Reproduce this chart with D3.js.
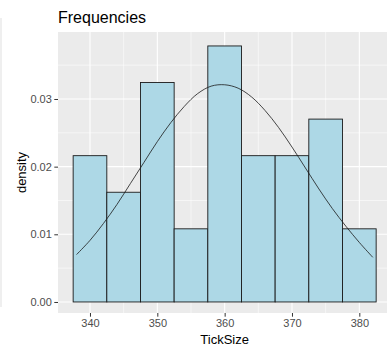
<!DOCTYPE html>
<html>
<head>
<meta charset="utf-8">
<script src="https://cdn.jsdelivr.net/npm/d3@7"></script>
<style>
  body { margin: 0; background: #fff; }
  svg { display: block; font-family: "Liberation Sans", Arial, sans-serif; }
</style>
</head>
<body>
<figure id="hist" style="margin:0"></figure>
<script>
// histogram of TickSize, 5-wide bins starting at 337.5
const binStarts = [337.5, 342.5, 347.5, 352.5, 357.5, 362.5, 367.5, 372.5, 377.5];
const binCounts = [4, 3, 6, 2, 7, 4, 4, 5, 2];
const sampleSize = 37;
const binWidth = 5;

// normal density curve
const curveX = [338, 340, 342, 344, 346, 348, 350, 352, 354, 356, 358, 360,
  362, 364, 366, 368, 370, 372, 374, 376, 378, 380, 382];
const curveY = [0.0070, 0.0091, 0.0116, 0.0144, 0.0175, 0.0206, 0.0237, 0.0265,
  0.0289, 0.0308, 0.0319, 0.0321, 0.0316, 0.0303, 0.0283, 0.0258, 0.0229,
  0.0198, 0.0167, 0.0138, 0.0112, 0.0088, 0.0066];

const xTicks = [340, 350, 360, 370, 380];
const xMinor = [345, 355, 365, 375, 385];
const yTicks = [0, 0.01, 0.02, 0.03];
const yMinor = [0.005, 0.015, 0.025, 0.035];

const width = 387, height = 346;
const panel = { left: 58, top: 32, right: 391.3, bottom: 313 };

const svg = d3.select("#hist")
  .append("svg")
  .attr("width", width)
  .attr("height", height);

svg.append("rect").attr("width", width).attr("height", height).attr("fill", "#fff");

// faint sliver of a neighbouring panel at the left edge
svg.append("rect")
  .attr("x", 0).attr("y", 18).attr("width", 2).attr("height", 289)
  .attr("fill", "#efefef");

const x = d3.scaleLinear()
  .domain([335.25, 384.75])
  .range([panel.left, panel.right]);

const y = d3.scaleLinear()
  .domain([-0.00163, 0.0399])
  .range([panel.bottom, panel.top]);

// panel background
svg.append("rect")
  .attr("x", panel.left)
  .attr("y", panel.top)
  .attr("width", panel.right - panel.left)
  .attr("height", panel.bottom - panel.top)
  .attr("fill", "#EBEBEB");

const grid = svg.append("g");
grid.selectAll(".xminor").data(xMinor).enter().append("line")
  .attr("x1", d => x(d)).attr("x2", d => x(d))
  .attr("y1", panel.top).attr("y2", panel.bottom)
  .attr("stroke", "#fff").attr("stroke-width", 0.55);
grid.selectAll(".yminor").data(yMinor).enter().append("line")
  .attr("x1", panel.left).attr("x2", panel.right)
  .attr("y1", d => y(d)).attr("y2", d => y(d))
  .attr("stroke", "#fff").attr("stroke-width", 0.55);
grid.selectAll(".xmajor").data(xTicks).enter().append("line")
  .attr("x1", d => x(d)).attr("x2", d => x(d))
  .attr("y1", panel.top).attr("y2", panel.bottom)
  .attr("stroke", "#fff").attr("stroke-width", 1.1);
grid.selectAll(".ymajor").data(yTicks).enter().append("line")
  .attr("x1", panel.left).attr("x2", panel.right)
  .attr("y1", d => y(d)).attr("y2", d => y(d))
  .attr("stroke", "#fff").attr("stroke-width", 1.1);

// bars
const bars = binStarts.map((b, i) => ({ x0: b, x1: b + binWidth, density: binCounts[i] / (sampleSize * binWidth) }));
svg.append("g")
  .selectAll("rect")
  .data(bars)
  .enter()
  .append("rect")
  .attr("x", d => x(d.x0))
  .attr("y", d => y(d.density))
  .attr("width", d => x(d.x1) - x(d.x0))
  .attr("height", d => y(0) - y(d.density))
  .attr("fill", "#ADD8E6")
  .attr("stroke", "#1a1a1a")
  .attr("stroke-width", 0.9);

// density curve
const line = d3.line()
  .x((d, i) => x(curveX[i]))
  .y(d => y(d))
  .curve(d3.curveCatmullRom);
svg.append("path")
  .attr("d", line(curveY))
  .attr("fill", "none")
  .attr("stroke", "#1a1a1a")
  .attr("stroke-width", 0.8);

// axes
const xAxis = svg.append("g")
  .attr("transform", `translate(0,${panel.bottom})`)
  .call(d3.axisBottom(x).tickValues(xTicks).tickSize(3.7).tickPadding(2.5).tickFormat(d3.format("d")));
const yAxis = svg.append("g")
  .attr("transform", `translate(${panel.left},0)`)
  .call(d3.axisLeft(y).tickValues(yTicks).tickSize(3.7).tickPadding(2.5).tickFormat(d3.format(".2f")));

[xAxis, yAxis].forEach(a => {
  a.select(".domain").remove();
  a.selectAll(".tick line").attr("stroke", "#333").attr("stroke-width", 1);
  a.selectAll(".tick text")
    .attr("fill", "#4D4D4D")
    .style("font-size", "11px")
    .style("font-family", "Liberation Sans, Arial, sans-serif");
});

// title and labels
svg.append("text")
  .attr("x", panel.left)
  .attr("y", 23)
  .attr("fill", "#000")
  .style("font-size", "16px")
  .text("Frequencies");

svg.append("text")
  .attr("x", (panel.left + panel.right) / 2)
  .attr("y", 344)
  .attr("text-anchor", "middle")
  .attr("fill", "#000")
  .style("font-size", "13px")
  .text("TickSize");

svg.append("text")
  .attr("transform", `translate(26,${(panel.top + panel.bottom) / 2}) rotate(-90)`)
  .attr("text-anchor", "middle")
  .attr("fill", "#000")
  .style("font-size", "13px")
  .text("density");
</script>
</body>
</html>
